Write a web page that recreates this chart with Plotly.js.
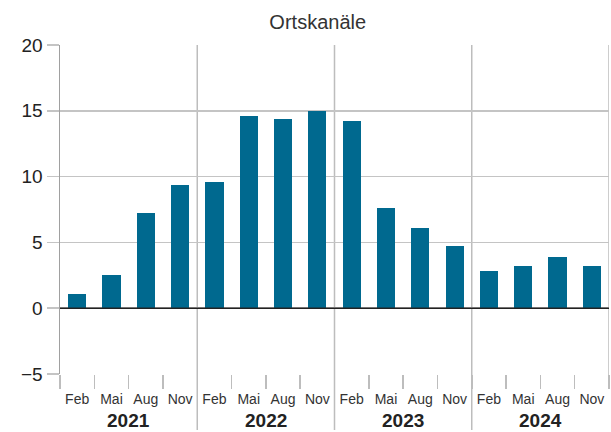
<!DOCTYPE html>
<html><head><meta charset="utf-8">
<script src="https://cdn.plot.ly/plotly-3.0.1.min.js"></script>
<style>html,body{margin:0;padding:0;background:#fff}#c{width:611px;height:432px}</style>
</head><body><div id="c"></div>
<script>
const months = ["Feb","Mai","Aug","Nov","Feb","Mai","Aug","Nov","Feb","Mai","Aug","Nov","Feb","Mai","Aug","Nov"];
const years = ["2021","2022","2023","2024"];
const values = [1.1,2.55,7.2,9.4,9.6,14.6,14.4,15.0,14.2,7.6,6.1,4.7,2.85,3.2,3.9,3.2];
const yTicks = [-5,0,5,10,15,20];
const yTickText = ["\u22125","0","5","10","15","20"];

const xc = values.map((v,i)=>i+0.5);
const bounds = Array.from({length: months.length+1},(_, i)=>i);
const F = "Liberation Sans, Arial, sans-serif";

const shapes = [];
years.forEach((y,k)=>{
  if(k>0) shapes.push({type:'line',xref:'x',yref:'paper',x0:k*4,x1:k*4,y0:-0.17,y1:1,line:{color:'#bdbdbd',width:1.5},layer:'below'});
});
shapes.push({type:'line',xref:'x',yref:'paper',x0:16,x1:16,y0:-0.04,y1:1,line:{color:'#bdbdbd',width:1.5},layer:'below'});
shapes.push({type:'line',xref:'paper',yref:'y',x0:0,x1:1,y0:0,y1:0,line:{color:'#222',width:1.5}});

const annotations = years.map((y,k)=>({xref:'x',yref:'paper',x:k*4+2,y:-0.14,yanchor:'middle',text:'<b>'+y+'</b>',showarrow:false,font:{family:F,size:19,color:'#222'}}));

Plotly.newPlot('c',[
 {type:'bar',x:xc,y:values,marker:{color:'#00698f'},width:0.53,hoverinfo:'none'},
 {type:'scatter',x:[0,16],y:[null,null],xaxis:'x2',showlegend:false,hoverinfo:'none'}
],{
 width:611,height:432,
 margin:{l:60,r:2,t:45,b:58},
 title:{text:'Ortskanäle',x:0.52,xanchor:'center',y:0.95,yanchor:'middle',font:{family:F,size:20,color:'#333'}},
 showlegend:false,
 bargap:0,
 plot_bgcolor:'#fff',paper_bgcolor:'#fff',
 xaxis:{range:[0,16],tickvals:xc,ticktext:months,ticks:'',showgrid:false,zeroline:false,showline:false,
        tickfont:{family:F,size:14,color:'#333'},ticklabelstandoff:15,fixedrange:true},
 xaxis2:{overlaying:'x',range:[0,16],tickvals:bounds,showticklabels:false,ticks:'outside',ticklen:14,tickwidth:1.5,tickcolor:'#bdbdbd',
        showgrid:false,zeroline:false,showline:false,side:'bottom',anchor:'y'},
 yaxis:{range:[-5,20],tickvals:yTicks,ticktext:yTickText,ticks:'outside',ticklen:12,tickwidth:1.5,tickcolor:'#c4c4c4',
        showgrid:true,gridcolor:'#c4c4c4',gridwidth:1.5,zeroline:false,showline:true,linecolor:'#a0a0a0',linewidth:1.5,
        tickfont:{family:F,size:19,color:'#222'},fixedrange:true},
 shapes:shapes,
 annotations:annotations
},{staticPlot:true});
</script></body></html>
